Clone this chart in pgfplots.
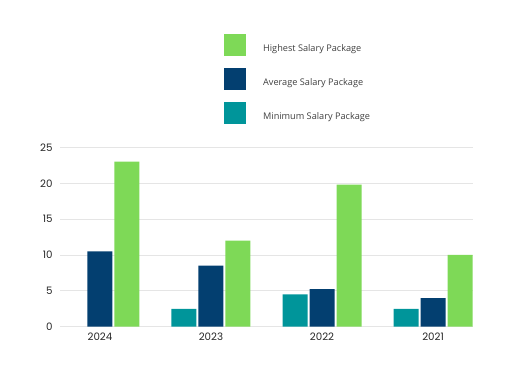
\documentclass[border=0pt]{standalone}
\usepackage{pgfplots}
\pgfplotsset{compat=1.18}
\usepackage{fontspec}
\setmainfont{Poppins}
\newfontfamily\legfont{Open Sans}
\definecolor{cgreen}{HTML}{7ED957}
\definecolor{cnavy}{HTML}{033F70}
\definecolor{cteal}{HTML}{00959A}
\pgfplotsset{sq/.style={legend image code/.code={\fill[##1,draw=none] (0bp,-7bp) rectangle (22bp,15bp);}}}
\begin{document}
\begin{tikzpicture}
\begin{axis}[
  scale only axis, width=413bp, height=179.3bp,
  ymin=0, ymax=25, xmin=-0.36, xmax=3.36,
  ybar=2bp, bar width=25bp,
  axis line style={draw=none}, major tick length=0pt,
  ymajorgrids, grid style={color=black!10, line width=0.7bp},
  xtick={0,1,2,3}, xticklabels={2024,2023,2022,2021},
  ytick={0,5,...,25},
  /pgf/number format/assume math mode=true,
  tick label style={font=\fontsize{10.3}{12}\selectfont, text=black!85},
  yticklabel style={xshift=-4bp},
  xticklabel style={yshift=-3bp},
  legend style={at={(0.397,1.636)}, anchor=north west, draw=none, fill=none,
    inner sep=0pt, row sep=12bp, column sep=15bp,
    font=\legfont\fontsize{9.2}{11}\selectfont, text=black!75},
  legend cell align=left,
  reverse legend,
]
\addplot[sq, fill=cteal, draw=none] coordinates {(1,2.5) (2,4.5) (3,2.5)};
\addplot[sq, fill=cnavy, draw=none] coordinates {(0,10.5) (1,8.5) (2,5.25) (3,4)};
\addplot[sq, fill=cgreen, draw=none] coordinates {(0,23) (1,12) (2,19.8) (3,10)};
\legend{Minimum Salary Package, Average Salary Package, Highest Salary Package}
\end{axis}
\path[use as bounding box] (-60bp,-57.3bp) rectangle (452bp,326.7bp);
\end{tikzpicture}
\end{document}
